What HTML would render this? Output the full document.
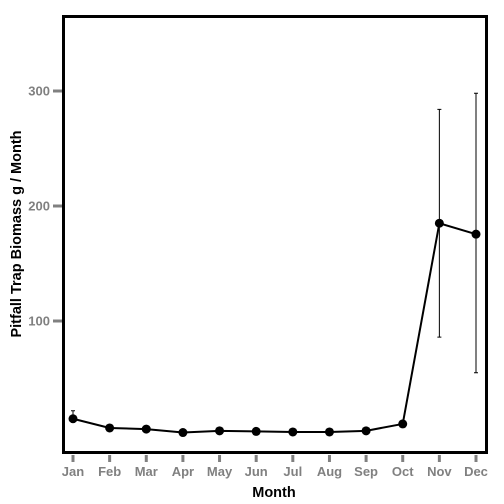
<!DOCTYPE html>
<html><head><meta charset="utf-8"><style>body{margin:0;background:#fff}svg{display:block}</style></head>
<body>
<svg id="chart" width="504" height="504" xmlns="http://www.w3.org/2000/svg" font-family="Liberation Sans, sans-serif">
<rect x="0" y="0" width="504" height="504" fill="#fff"/>
<g id="plot"></g>
<rect x="63.5" y="16.5" width="423" height="436" fill="none" stroke="#000" stroke-width="3"/>
<text x="274" y="497" text-anchor="middle" font-size="14.5" font-weight="bold" fill="#000">Month</text>
<text transform="translate(21,234) rotate(-90)" text-anchor="middle" font-size="14.5" font-weight="bold" fill="#000">Pitfall Trap Biomass g / Month</text>
</svg>
<script>
const months = ["Jan","Feb","Mar","Apr","May","Jun","Jul","Aug","Sep","Oct","Nov","Dec"];
const meanValues = [15, 7, 6, 3, 4.5, 4, 3.5, 3.5, 4.5, 10.5, 185, 175.5];
const errLow = [12, 7, 6, 3, 4.5, 4, 3.5, 3.5, 4.5, 10.5, 86, 55];
const errHigh = [22, 7, 6, 3, 4.5, 4, 3.5, 3.5, 4.5, 10.5, 284, 298];
const yTicks = [100, 200, 300];

const NS = "http://www.w3.org/2000/svg";
const g = document.getElementById("plot");
const xS = i => 73 + i * (476 - 73) / 11;
const yS = v => 436 - v * 1.15;
function mk(tag, attrs, parent) {
  const e = document.createElementNS(NS, tag);
  for (const k in attrs) e.setAttribute(k, attrs[k]);
  (parent || g).appendChild(e);
  return e;
}
yTicks.forEach(t => {
  const l = mk("line", {x1: 53, x2: 62, y1: yS(t), y2: yS(t), stroke: "#808080", "stroke-width": 3});
  
  
  const tx = mk("text", {x: 50, y: yS(t) + 4.5, "text-anchor": "end", "font-size": 13, "font-weight": "bold", fill: "#808080"});
  tx.textContent = t;
  
  
});
months.forEach((m, i) => {
  const l = mk("line", {x1: xS(i), x2: xS(i), y1: 455, y2: 462, stroke: "#808080", "stroke-width": 3});
  
  
  const tx = mk("text", {x: xS(i), y: 476, "text-anchor": "middle", "font-size": 13, "font-weight": "bold", fill: "#808080"});
  tx.textContent = m;
  
  
});
months.forEach((m, i) => {
  if (errHigh[i] - errLow[i] < 1) return;
  const e = mk("path", {d: `M${xS(i)-2},${yS(errHigh[i])}H${xS(i)+2}M${xS(i)},${yS(errHigh[i])}V${yS(errLow[i])}M${xS(i)-2},${yS(errLow[i])}H${xS(i)+2}`, stroke: "#000", "stroke-width": 1, fill: "none"});
  
  
});
const line = mk("polyline", {points: meanValues.map((v, i) => xS(i) + "," + yS(v)).join(" "), fill: "none", stroke: "#000", "stroke-width": 2});


meanValues.forEach((v, i) => {
  const c = mk("circle", {cx: xS(i), cy: yS(v), r: 4.5, fill: "#000"});
  
  
});
</script>
</body></html>
